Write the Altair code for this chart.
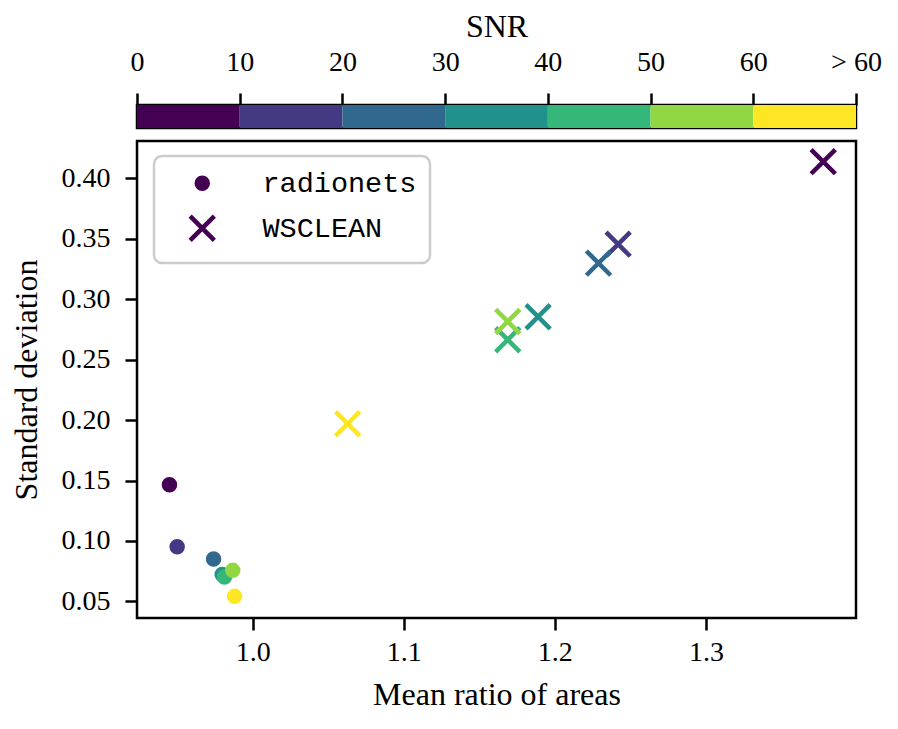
import altair as alt
import pandas as pd

# SNR bins (colour bar)
snr_bins = ["0-10", "10-20", "20-30", "30-40", "40-50", "50-60", ">60"]
bin_start = [0, 10, 20, 30, 40, 50, 60]
bin_end = [10, 20, 30, 40, 50, 60, 70]
viridis7 = ["#440154", "#443983", "#31688e", "#21918c", "#35b779", "#90d743", "#fde725"]
cbar_ticks = [0, 10, 20, 30, 40, 50, 60, 70]

# radionets results per SNR bin
radionets_mean = [0.9448, 0.9499, 0.9740, 0.9797, 0.9812, 0.9867, 0.9879]
radionets_std = [0.1465, 0.0953, 0.0851, 0.0722, 0.0702, 0.0757, 0.0542]

# WSCLEAN results per SNR bin
wsclean_mean = [1.3777, 1.2419, 1.2289, 1.1889, 1.1688, 1.1688, 1.0628]
wsclean_std = [0.4137, 0.3455, 0.3298, 0.2854, 0.2664, 0.2815, 0.1969]

methods = ["radionets", "WSCLEAN"]
x_ticks = [1.0, 1.1, 1.2, 1.3]
y_ticks = [0.05, 0.10, 0.15, 0.20, 0.25, 0.30, 0.35, 0.40]

xpath = "M-2.2,-2.2L2.2,2.2M-2.2,2.2L2.2,-2.2"
W = 719

cbar_df = pd.DataFrame({"snr": snr_bins, "start": bin_start, "end": bin_end})
pts_df = pd.DataFrame({
    "method": [methods[0]] * 7 + [methods[1]] * 7,
    "snr": snr_bins * 2,
    "mean": radionets_mean + wsclean_mean,
    "std": radionets_std + wsclean_std,
    "order": list(range(14)),
})

color_scale = alt.Scale(domain=snr_bins, range=viridis7)

cbar = alt.Chart(cbar_df).mark_rect().encode(
    x=alt.X("start:Q",
            scale=alt.Scale(domain=[0, 70], nice=False, zero=False),
            axis=alt.Axis(orient="top", values=cbar_ticks, title="SNR",
                          labelExpr="datum.value == 70 ? '> 60' : datum.label",
                          labelPadding=17, titlePadding=5, labelFlush=False,
                          labelOverlap=False)),
    x2="end:Q",
    color=alt.Color("snr:N", scale=color_scale, legend=None),
).properties(width=W, height=23)

points = alt.Chart(pts_df).mark_point(filled=True, size=121, strokeWidth=4.5, opacity=1).encode(
    x=alt.X("mean:Q",
            scale=alt.Scale(domain=[0.9233, 1.3994], nice=False, zero=False),
            axis=alt.Axis(values=x_ticks, format=".1f", title="Mean ratio of areas",
                          labelPadding=8, titlePadding=13, labelFlush=False)),
    y=alt.Y("std:Q",
            scale=alt.Scale(domain=[0.0363, 0.4308], nice=False, zero=False),
            axis=alt.Axis(values=y_ticks, format=".2f", title="Standard deviation",
                          labelPadding=15, titlePadding=18, labelFlush=False)),
    fill=alt.Fill("snr:N", scale=color_scale, legend=None),
    stroke=alt.Stroke("snr:N", scale=color_scale, legend=None),
    shape=alt.Shape("method:N",
                    scale=alt.Scale(domain=methods, range=["circle", xpath]),
                    legend=alt.Legend(title=None, orient="none", legendX=17, legendY=51,
                                      padding=13, rowPadding=9, symbolSize=121,
                                      symbolStrokeWidth=4.5, symbolFillColor="#440154",
                                      symbolStrokeColor="#440154", symbolOffset=21,
                                      labelOffset=46, labelFont="Liberation Mono",
                                      labelFontSize=28.5, labelColor="black",
                                      strokeColor="#cccccc", fillColor="white",
                                      cornerRadius=8)),
    order=alt.Order("order:Q"),
).properties(width=W, height=477)

chart = alt.vconcat(cbar, points, spacing=9).properties(
    padding={"left": 0, "top": 0, "right": 5, "bottom": 0}
).configure(
    font="Liberation Serif"
).configure_view(
    stroke="black", strokeWidth=2.5
).configure_axis(
    labelFontSize=28, titleFontSize=32, labelColor="black", titleColor="black",
    tickColor="black", tickWidth=2.5, tickSize=12, domain=False, grid=False,
    titleFontWeight="normal", labelFont="Liberation Serif", titleFont="Liberation Serif"
).configure_legend(
    strokeWidth=2.5
)

chart.save("out.html", embed_options={"renderer": "svg", "actions": False})
